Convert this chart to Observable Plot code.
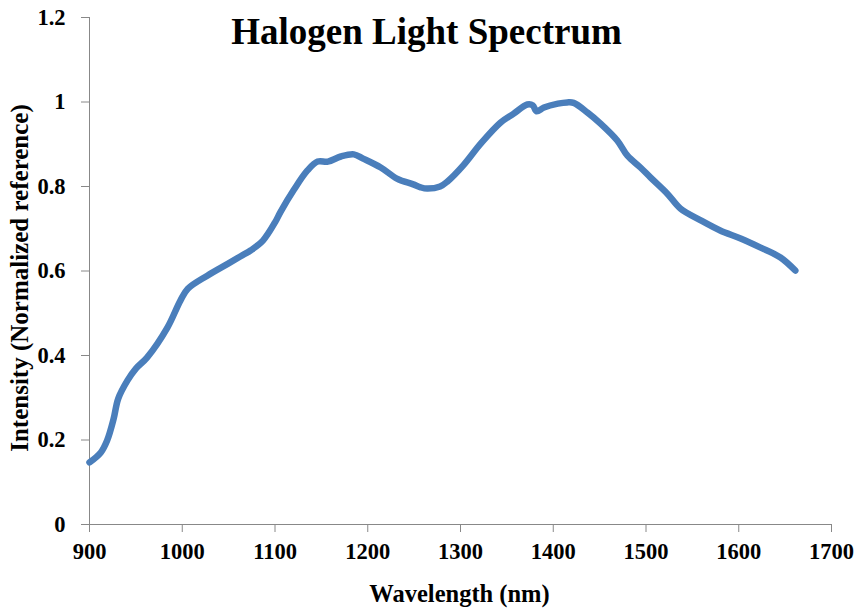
<!DOCTYPE html>
<html>
<head>
<meta charset="utf-8">
<script src="https://cdn.jsdelivr.net/npm/d3@7"></script>
<script src="https://cdn.jsdelivr.net/npm/@observablehq/plot@0.6"></script>
<style>
  html, body { margin: 0; padding: 0; background: #fff; }
  #chart svg { display: block; }
</style>
</head>
<body>
<div id="chart"></div>
<script>
const title = "Halogen Light Spectrum";
const xLabel = "Wavelength (nm)";
const yLabel = "Intensity (Normalized reference)";
const xTicks = [900, 1000, 1100, 1200, 1300, 1400, 1500, 1600, 1700];
const yTicks = [0, 0.2, 0.4, 0.6, 0.8, 1, 1.2];

const wavelength = [900, 912, 919, 926, 931, 941, 950, 962, 984, 998, 1006, 1027, 1049, 1063, 1074, 1087, 1100, 1106, 1120, 1135, 1146, 1157, 1171, 1185, 1195, 1214, 1232, 1249, 1257, 1264, 1278, 1286, 1303, 1322, 1343, 1357, 1372, 1378, 1382, 1390, 1405, 1415, 1422, 1437, 1451, 1469, 1480, 1494, 1505, 1523, 1537, 1559, 1580, 1602, 1623, 1645, 1661];
const intensity = [0.147, 0.170, 0.199, 0.250, 0.298, 0.341, 0.369, 0.395, 0.466, 0.530, 0.558, 0.589, 0.617, 0.635, 0.649, 0.672, 0.715, 0.740, 0.791, 0.838, 0.859, 0.859, 0.871, 0.876, 0.866, 0.845, 0.818, 0.805, 0.798, 0.795, 0.800, 0.812, 0.850, 0.902, 0.951, 0.972, 0.994, 0.992, 0.978, 0.987, 0.996, 0.999, 0.998, 0.975, 0.949, 0.909, 0.873, 0.845, 0.821, 0.783, 0.748, 0.720, 0.696, 0.677, 0.656, 0.632, 0.601];

const data = wavelength.map((w, i) => ({w, v: intensity[i]}));
const axisColor = "#888888";
const font = "'Liberation Serif', 'Times New Roman', serif";

const chart = Plot.plot({
  width: 856,
  height: 608,
  marginLeft: 89,
  marginRight: 25,
  marginTop: 17,
  marginBottom: 84,
  style: {fontFamily: font, background: "#fff"},
  x: {domain: [900, 1700]},
  y: {domain: [0, 1.2]},
  marks: [
    Plot.ruleX([900], {stroke: axisColor, strokeWidth: 1}),
    Plot.ruleY([0], {stroke: axisColor, strokeWidth: 1}),
    Plot.axisX({ticks: xTicks, tickSize: 8, tickPadding: 11, stroke: axisColor, fontSize: 22.5, fontWeight: "bold", fill: "#000", label: null, tickFormat: d => String(d)}),
    Plot.axisY({ticks: yTicks, tickSize: 8, tickPadding: 16, stroke: axisColor, fontSize: 22.5, fontWeight: "bold", fill: "#000", label: null, tickFormat: d => String(d)}),
    Plot.line(data, {x: "w", y: "v", stroke: "#4a7ebb", strokeWidth: 6.5, curve: "catmull-rom", strokeLinecap: "round", strokeLinejoin: "round"}),
    Plot.text([title], {text: d => d, frameAnchor: "top", lineAnchor: "top", textAnchor: "middle", dx: -34, dy: 0, fontSize: 37, fontWeight: "bold", fill: "#000"}),
    Plot.text([yLabel], {text: d => d, frameAnchor: "left", rotate: -90, textAnchor: "middle", lineAnchor: "middle", dx: -70, dy: 7, fontSize: 25, fontWeight: "bold", fill: "#000"}),
    Plot.text([xLabel], {text: d => d, frameAnchor: "bottom", textAnchor: "middle", lineAnchor: "middle", dx: -1, dy: 70, fontSize: 24.5, fontWeight: "bold", fill: "#000"})
  ]
});
document.getElementById("chart").appendChild(chart);
</script>
</body>
</html>
